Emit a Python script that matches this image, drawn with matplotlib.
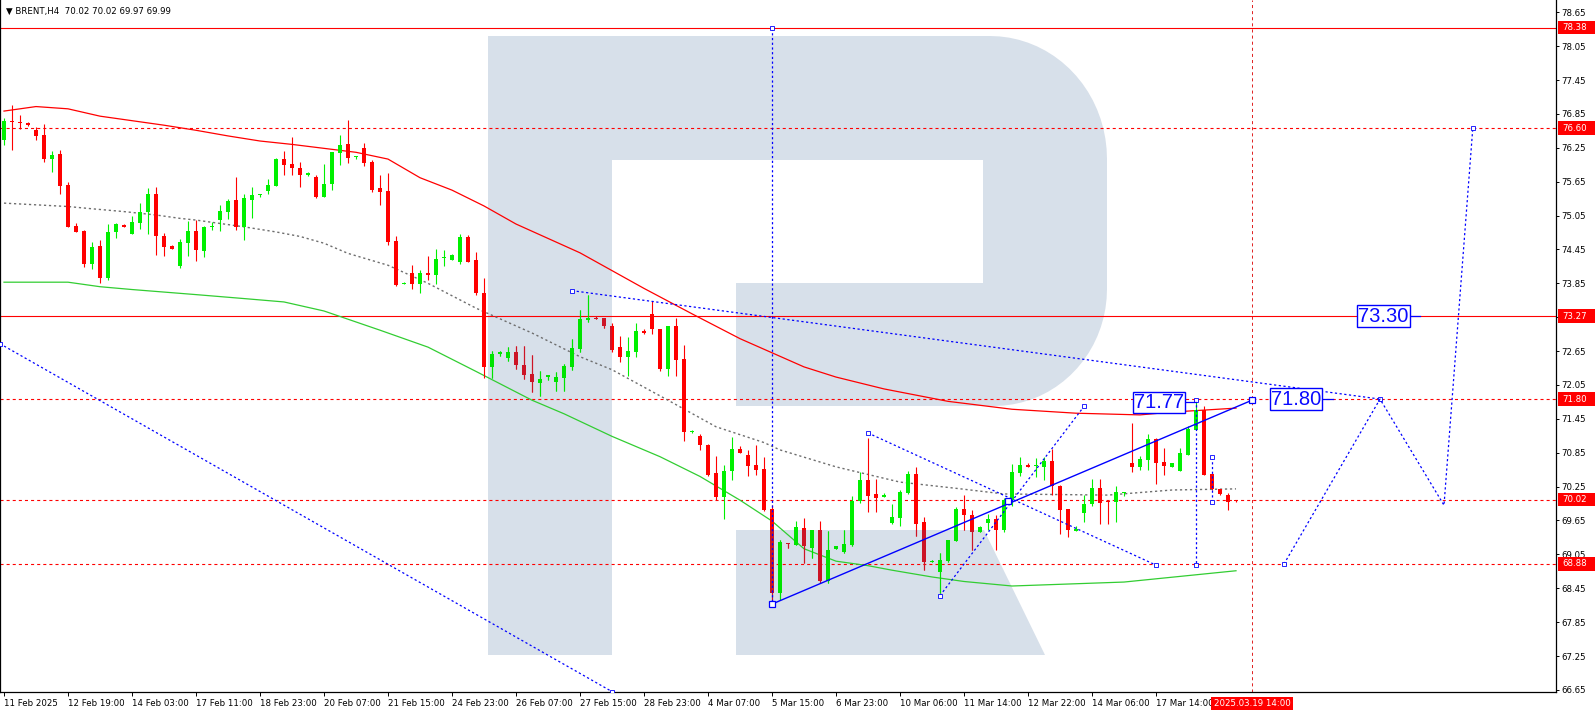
import numpy as np
import matplotlib
matplotlib.use('Agg')
import matplotlib.pyplot as plt
from matplotlib.path import Path
from matplotlib.patches import PathPatch, Rectangle
from matplotlib.transforms import Affine2D, blended_transform_factory

plt.rcParams['lines.scale_dashes'] = False
plt.rcParams['font.family'] = ['DejaVu Sans']

# BRENT H4 bars (bar 0 = 11 Feb 2025)
opens = [76.39, 76.71, 76.71, 76.69, 76.56, 76.48, 76.05, 76.14, 75.59, 74.87,
         74.78, 74.20, 74.51, 73.95, 74.75, 74.88, 74.73, 74.92, 75.12, 75.43,
         74.69, 74.51, 74.16, 74.57, 74.78, 74.43, 74.84, 74.98, 75.11, 75.33,
         74.84, 75.33, 75.41, 75.49, 75.57, 76.05, 75.96, 75.89, 75.76, 75.73,
         75.38, 75.61, 76.16, 76.32, 76.08, 76.25, 76.00, 75.54, 75.49, 74.60,
         73.83, 74.03, 73.83, 74.03, 73.99, 74.30, 74.27, 74.23, 74.67, 74.26,
         73.68, 72.37, 72.59, 72.52, 72.63, 72.40, 72.25, 72.09, 72.19, 72.11,
         72.18, 72.37, 72.69, 73.20, 73.24, 73.24, 73.09, 72.72, 72.55, 72.64,
         73.01, 73.31, 73.04, 72.33, 73.09, 72.51, 71.22, 71.14, 70.98, 70.49,
         70.07, 70.52, 70.92, 70.81, 70.63, 70.56, 69.85, 68.36, 69.26, 69.22,
         69.52, 69.16, 69.48, 68.57, 69.14, 69.09, 69.22, 69.99, 70.37, 70.12,
         70.06, 69.61, 69.70, 70.14, 70.47, 69.62, 68.92, 68.73, 68.93, 69.29,
         69.86, 69.75, 69.45, 69.61, 69.68, 69.48, 70.01, 70.49, 70.63, 70.61,
         70.60, 70.70, 70.26, 69.85, 69.47, 69.78, 69.94, 70.23, 69.99, 69.98,
         70.13, 70.67, 70.60, 70.72, 71.09, 70.69, 70.60, 70.53, 70.81, 71.25,
         71.61, 70.47, 70.21, 70.10, 70.02]
highs = [76.77, 77.01, 76.83, 76.70, 76.62, 76.68, 76.19, 76.21, 75.64, 74.92,
         74.79, 74.58, 74.62, 74.90, 74.92, 74.90, 75.04, 75.27, 75.54, 75.56,
         74.74, 74.53, 74.64, 74.95, 74.97, 74.87, 74.94, 75.24, 75.34, 75.73,
         75.43, 75.55, 75.44, 75.70, 76.07, 76.19, 76.44, 76.00, 75.82, 75.77,
         75.96, 76.18, 76.48, 76.74, 76.10, 76.34, 76.03, 75.77, 75.80, 74.69,
         73.88, 74.17, 74.09, 74.33, 74.46, 74.44, 74.37, 74.72, 74.71, 74.40,
         73.94, 72.65, 72.65, 72.73, 72.74, 72.74, 72.58, 72.30, 72.22, 72.28,
         72.42, 72.86, 73.38, 73.64, 73.27, 73.24, 73.15, 72.92, 72.90, 73.15,
         73.04, 73.54, 73.04, 73.09, 73.24, 72.76, 71.26, 71.19, 71.01, 70.79,
         70.63, 71.13, 70.97, 70.90, 70.99, 70.77, 69.92, 69.30, 69.26, 69.64,
         69.70, 69.48, 69.64, 69.47, 69.20, 69.48, 70.08, 70.51, 71.11, 70.39,
         70.14, 69.94, 70.19, 70.53, 70.60, 69.71, 68.95, 69.08, 69.30, 69.89,
         70.10, 69.84, 69.55, 69.77, 69.75, 70.05, 70.65, 70.77, 70.67, 70.76,
         70.77, 70.92, 70.28, 69.85, 69.55, 70.10, 70.39, 70.39, 69.99, 70.26,
         70.15, 71.38, 70.79, 71.18, 71.11, 70.93, 70.67, 70.93, 71.32, 71.78,
         71.68, 70.47, 70.21, 70.13, 70.02]
lows = [76.30, 76.21, 76.59, 76.64, 76.38, 76.00, 75.83, 75.44, 74.84, 74.76,
        74.14, 74.11, 73.85, 73.90, 74.66, 74.84, 74.73, 74.82, 74.72, 74.36,
        74.34, 74.45, 74.13, 74.34, 74.25, 74.32, 74.80, 74.78, 74.99, 74.80,
        74.62, 75.01, 75.38, 75.44, 75.57, 75.77, 75.77, 75.56, 75.75, 75.36,
        75.38, 75.50, 75.94, 75.98, 76.05, 75.93, 75.47, 75.24, 74.52, 73.81,
        73.83, 73.75, 73.68, 73.90, 73.84, 74.15, 74.27, 74.20, 74.23, 73.65,
        72.18, 72.17, 72.57, 72.48, 72.34, 72.16, 71.93, 71.86, 72.13, 71.95,
        71.95, 72.32, 72.63, 73.16, 73.22, 73.05, 72.63, 72.46, 72.20, 72.55,
        72.95, 72.95, 72.30, 72.20, 72.21, 71.05, 71.20, 70.89, 70.44, 70.02,
        69.67, 70.36, 70.84, 70.43, 70.46, 69.82, 68.22, 68.24, 69.17, 69.22,
        68.89, 68.99, 68.54, 68.54, 69.14, 69.07, 69.19, 69.96, 69.80, 69.80,
        70.06, 69.59, 69.55, 70.12, 69.38, 68.78, 68.91, 68.36, 68.92, 69.29,
        69.48, 69.13, 69.45, 69.48, 69.13, 69.45, 69.90, 70.44, 70.60, 70.42,
        70.37, 70.10, 69.41, 69.35, 69.47, 69.63, 69.91, 69.59, 69.59, 69.63,
        70.09, 70.51, 70.54, 70.54, 70.30, 70.46, 70.60, 70.53, 70.81, 71.25,
        70.46, 70.19, 70.10, 69.84, 69.97]
closes = [76.72, 76.70, 76.69, 76.66, 76.46, 76.05, 76.12, 75.58, 74.85, 74.76,
          74.20, 74.49, 73.95, 74.76, 74.90, 74.84, 74.94, 75.11, 75.43, 74.68,
          74.50, 74.45, 74.58, 74.78, 74.44, 74.85, 74.87, 75.13, 75.31, 74.84,
          75.36, 75.41, 75.43, 75.59, 76.05, 75.95, 75.89, 75.77, 75.80, 75.37,
          75.61, 76.18, 76.30, 76.07, 76.10, 75.98, 75.50, 75.47, 74.58, 73.82,
          73.85, 73.83, 74.03, 73.99, 74.28, 74.31, 74.35, 74.67, 74.23, 73.67,
          72.36, 72.60, 72.63, 72.63, 72.41, 72.23, 72.11, 72.16, 72.22, 72.19,
          72.39, 72.71, 73.22, 73.24, 73.22, 73.10, 72.67, 72.55, 72.65, 73.01,
          72.97, 73.04, 72.33, 73.09, 72.49, 71.22, 71.23, 70.98, 70.46, 70.06,
          70.52, 70.92, 70.84, 70.62, 70.55, 69.84, 68.36, 69.27, 69.23, 69.54,
          69.19, 69.48, 68.57, 69.13, 69.20, 69.24, 69.99, 70.37, 70.08, 70.05,
          70.10, 69.71, 70.15, 70.47, 69.59, 68.92, 68.94, 68.95, 69.30, 69.85,
          69.74, 69.45, 69.54, 69.68, 69.48, 70.01, 70.51, 70.63, 70.60, 70.62,
          70.70, 70.26, 69.83, 69.48, 69.50, 69.94, 70.23, 69.96, 69.97, 70.15,
          70.15, 70.60, 70.74, 71.09, 70.67, 70.62, 70.67, 70.85, 71.27, 71.61,
          70.46, 70.21, 70.12, 69.98, 69.99]

# moving averages, read at a few bars
red_ma_bars = [0, 4, 8, 12, 16, 20, 24, 28, 32, 36, 40, 44, 48, 52, 56, 60, 64,
               72, 80, 86, 92, 96, 100, 104, 110, 118, 126, 134, 142, 146, 154]
red_ma_vals = [76.90, 76.98, 76.94, 76.81, 76.73, 76.65, 76.56, 76.46, 76.37, 76.31,
               76.24, 76.17, 76.05, 75.72, 75.50, 75.22, 74.90, 74.39, 73.76, 73.31,
               72.87, 72.62, 72.37, 72.19, 71.98, 71.76, 71.62, 71.55, 71.52, 71.57, 71.64]
green_ma_bars = [0, 8, 12, 16, 24, 30, 35, 40, 47, 53, 59, 66, 70, 76, 82, 87, 92,
                 96, 100, 104, 108, 111, 116, 120, 126, 140, 154]
green_ma_vals = [73.87, 73.87, 73.79, 73.74, 73.65, 73.58, 73.52, 73.36, 73.02, 72.72,
                 72.29, 71.78, 71.54, 71.14, 70.78, 70.43, 70.01, 69.64, 69.15, 68.93,
                 68.85, 68.77, 68.65, 68.57, 68.49, 68.56, 68.76]
gray_ma_bars = [0, 4, 8, 11, 15, 19, 22, 24, 30, 34, 37, 40, 43, 48, 53, 59, 66, 72,
                76, 83, 89, 95, 97, 104, 112, 119, 125, 138, 146, 154]
gray_ma_vals = [75.27, 75.24, 75.21, 75.17, 75.12, 75.06, 75.00, 74.97, 74.85, 74.76,
                74.68, 74.56, 74.38, 74.17, 73.85, 73.41, 72.97, 72.55, 72.32, 71.78,
                71.31, 71.03, 70.90, 70.60, 70.33, 70.22, 70.12, 70.10, 70.19, 70.21]

# horizontal levels
solid_levels = [78.38, 73.27]
dashed_levels = [76.60, 71.80, 70.02, 68.88]
price_ticks = [78.65, 78.05, 77.45, 76.85, 76.25, 75.65, 75.05, 74.45, 73.85, 73.25,
               72.65, 72.05, 71.45, 70.85, 70.25, 69.65, 69.05, 68.45, 67.85, 67.25, 66.65]

time_bars = list(range(0, 145, 8))
time_labels = ['11 Feb 2025', '12 Feb 19:00', '14 Feb 03:00', '17 Feb 11:00',
               '18 Feb 23:00', '20 Feb 07:00', '21 Feb 15:00', '24 Feb 23:00',
               '26 Feb 07:00', '27 Feb 15:00', '28 Feb 23:00', '4 Mar 07:00',
               '5 Mar 15:00', '6 Mar 23:00', '10 Mar 06:00', '11 Mar 14:00',
               '12 Mar 22:00', '14 Mar 06:00', '17 Mar 14:00']
cursor_bar = 156
cursor_label = '2025.03.19 14:00'

# blue analysis lines (bar, price)
dotted_lines = [
    ([-0.5, 76], [72.78, 66.62]),
    ([96, 96], [78.38, 68.17]),
    ([71, 172], [73.72, 71.80]),
    ([108, 144], [71.20, 68.86]),
    ([117, 135], [68.32, 71.67]),
    ([149, 149], [71.78, 68.86]),
    ([151, 151], [70.78, 69.98]),
    ([160, 172, 180, 183.6], [68.88, 71.80, 69.92, 76.60]),
]
solid_line = ([96, 156], [68.17, 71.78])
solid_marks = ([96, 125.5, 156], [68.17, 70.00, 71.78])
box_labels = [('73.30', 172.4, 73.27), ('71.80', 161.5, 71.80), ('71.77', 144.4, 71.74)]
box_ticks = [([175.8, 177.0], 73.27), ([164.9, 166.1], 71.80), ([147.8, 149.0], 71.75)]

W, H = 1596, 716
fig = plt.figure(figsize=(W / 100, H / 100), dpi=100)
ax = fig.add_axes([0, 24 / H, 1556 / W, 692 / H])
ax.set_xlim(-0.5, 194)
ax.set_ylim(66.613, 78.867)

# watermark logo (pixel coords of the picture, decoration only)
pix = Affine2D().scale(1 / W, -1 / H).translate(0, 1) + fig.transFigure
t1 = np.linspace(np.pi / 2, 0, 20)
t2 = np.linspace(0, np.pi / 2, 20)
bowl = ([(600, 36), (990, 36)]
        + list(zip(990 + 117 * np.cos(t1), 159 - 123 * np.sin(t1)))
        + list(zip(994 + 113 * np.cos(t2), 289 + 117 * np.sin(t2)))
        + [(736, 406), (736, 283), (983, 283), (983, 160), (600, 160), (600, 36)])
stem = [(488, 36), (612, 36), (612, 655), (488, 655), (488, 36)]
leg = [(736, 530), (984, 530), (1045, 655), (736, 655), (736, 530)]
verts, codes = [], []
for poly in (stem, bowl, leg):
    verts += poly
    codes += [Path.MOVETO] + [Path.LINETO] * (len(poly) - 2) + [Path.CLOSEPOLY]
wm = PathPatch(Path(verts, codes), facecolor='#d7e0ea', edgecolor='none',
               transform=pix, zorder=0)
ax.add_patch(wm)
ax.set_xlim(-0.5, 194)
ax.set_ylim(66.613, 78.867)

# levels
for lv in solid_levels:
    ax.axhline(lv, color='#ff0000', lw=0.8, zorder=1)
for lv in dashed_levels:
    ax.axhline(lv, color='#ff0000', lw=0.8, dashes=(2.2, 2.2), zorder=1)
ax.axvline(cursor_bar, color='#e02020', lw=0.7, dashes=(2.2, 2.2), zorder=1)

# moving averages
ax.plot(red_ma_bars, red_ma_vals, color='#ff0000', lw=0.9, zorder=2)
ax.plot(green_ma_bars, green_ma_vals, color='#32cd32', lw=0.9, zorder=2)
ax.plot(gray_ma_bars, gray_ma_vals, color='#6e6e6e', lw=1.0, dashes=(1.6, 2.0), zorder=2)

# candles
o, h, l, c = map(np.array, (opens, highs, lows, closes))
x = np.arange(len(o))
up = c >= o
col = np.where(up, '#00f000', '#ff0000')
dark = np.where(up, '#00e400', '#cc1426')
bottoms = np.minimum(o, c)
heights = np.maximum(np.abs(c - o), 0.018)
ax.vlines(x, l, h, colors=col, lw=0.8, zorder=3)
ax.bar(x, heights, bottom=bottoms, width=0.62, color=col, linewidth=0, zorder=3)
wd = ax.vlines(x, l, h, colors=dark, lw=0.8, zorder=3.1)
wd.set_clip_path(wm)
for r in ax.bar(x, heights, bottom=bottoms, width=0.62, color=dark, linewidth=0, zorder=3.1):
    r.set_clip_path(wm)

# blue analysis lines
for bx, py in dotted_lines:
    ax.plot(bx, py, color='#0000ff', lw=0.9, dashes=(1.6, 1.8), zorder=4)
    ax.plot([bx[0], bx[-1]], [py[0], py[-1]], ls='none', marker='s', ms=2.5,
            mfc='white', mec='#0000ff', mew=0.6, zorder=4)
ax.plot(*solid_line, color='#0000ff', lw=1.0, zorder=4)
ax.plot(*solid_marks, ls='none', marker='s', ms=4, mfc='white', mec='#0000ff',
        mew=0.9, zorder=4.5)
for bx, py in box_ticks:
    ax.plot(bx, [py, py], color='#0000ff', lw=0.9, zorder=4)
for txt, bx, py in box_labels:
    ax.text(bx, py, txt, family=['Liberation Sans'], fontsize=14.5, color='#0a0aff',
            ha='center', va='center', zorder=6,
            bbox=dict(boxstyle='square,pad=0.06', fc='white', ec='#0000ff', lw=1.0))

# axes look
for s in ('left', 'right', 'bottom'):
    ax.spines[s].set_color('black')
    ax.spines[s].set_linewidth(0.9)
ax.spines['top'].set_visible(False)
ax.yaxis.tick_right()
ax.set_yticks(price_ticks)
ax.set_yticklabels([f'{v:.2f}' for v in price_ticks])
ax.tick_params(axis='y', length=2.5, width=0.7, pad=1.5, labelsize=6.2)
ax.set_xticks(time_bars)
ax.set_xticklabels(time_labels, ha='left')
ax.tick_params(axis='x', length=3, width=0.7, pad=2, labelsize=6.2)

yb = blended_transform_factory(ax.transAxes, ax.transData)
for lv in solid_levels + dashed_levels:
    ax.add_patch(Rectangle((1 + 2 / 1556, lv - 0.118), 37 / 1556, 0.236, transform=yb,
                           facecolor='#ff0000', edgecolor='none', clip_on=False, zorder=6))
    ax.text(1 + 6 / 1556, lv, f'{lv:.2f}', transform=yb, color='white', fontsize=6.2,
            ha='left', va='center', clip_on=False, zorder=7)

xb = blended_transform_factory(ax.transData, ax.transAxes)
ax.text(cursor_bar, -0.0165, cursor_label, transform=xb, color='white', fontsize=6.2,
        ha='center', va='center', clip_on=False, zorder=7,
        bbox=dict(boxstyle='square,pad=0.25', fc='#ff0000', ec='none'))

fig.text(6 / W, 1 - 11 / H, '\u25bc BRENT,H4  70.02 70.02 69.97 69.99', fontsize=6.2,
         va='center', ha='left')

fig.savefig('out.png', dpi=100)
